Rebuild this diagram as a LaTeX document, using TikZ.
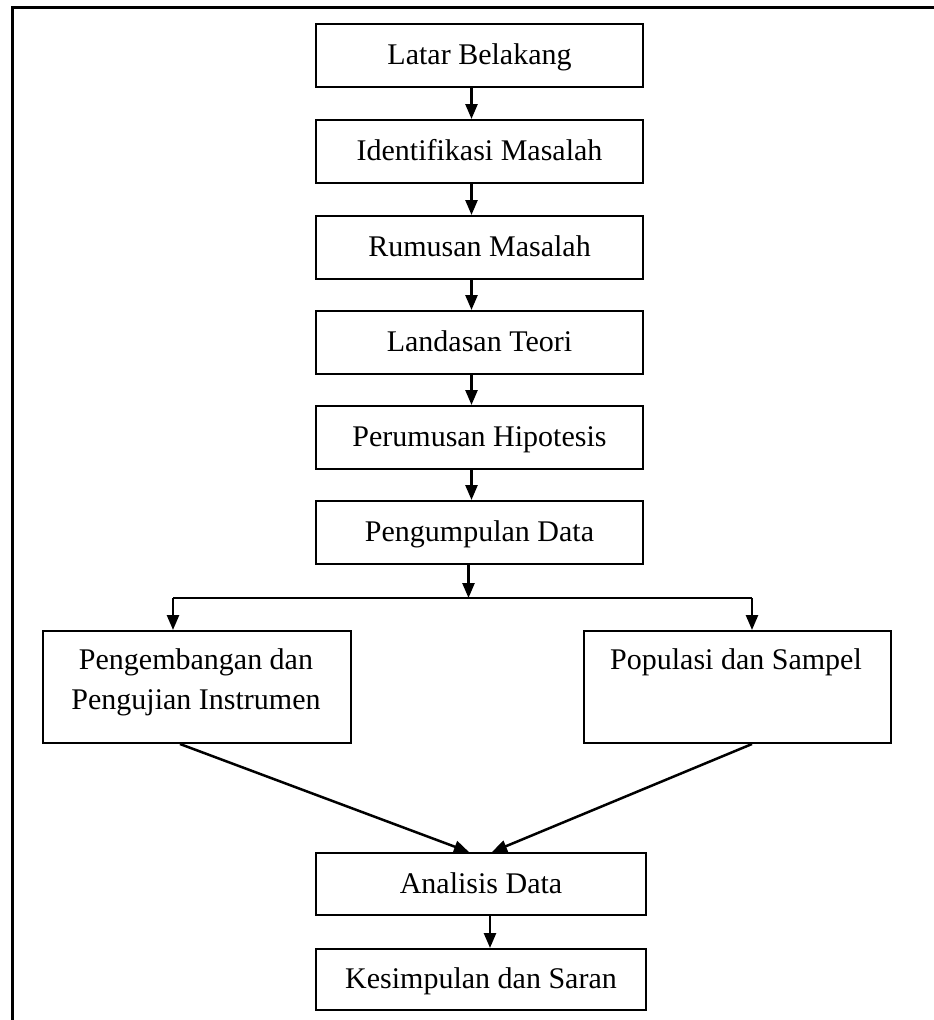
\documentclass[tikz,border=0pt]{standalone}
\usepackage{fontspec}
\setmainfont{Liberation Serif}
\usetikzlibrary{arrows.meta,calc}
\begin{document}
\begin{tikzpicture}[x=1pt,y=-1pt,
  box/.style={draw,line width=2pt,minimum width=327pt,minimum height=63pt,inner sep=0pt,
    font=\fontsize{30}{40}\selectfont,anchor=north west,align=center,text height=24pt,text depth=6pt},
  lbl/.style={font=\fontsize{30}{40}\selectfont,align=center,inner sep=0pt,anchor=north},
  arr/.style={line width=2.5pt,-{Triangle[length=15pt,width=12pt]}},
  ln/.style={line width=2.5pt}]
\useasboundingbox (0,0) rectangle (934,1020);
\draw[line width=3pt] (12,1020) -- (12,7) -- (934,7);
\node[box] (b1) at (315,23) {Latar Belakang};
\node[box] (b2) at (315,119) {Identifikasi Masalah};
\node[box] (b3) at (315,215) {Rumusan Masalah};
\node[box] (b4) at (315,310) {Landasan Teori};
\node[box] (b5) at (315,405) {Perumusan Hipotesis};
\node[box] (b6) at (315,500) {Pengumpulan Data};
\node[box,minimum width=308pt,minimum height=112pt] (l) at (42,630) {};
\node[lbl] (lt) at (196,648) {Pengembangan dan\\Pengujian Instrumen};
\node[box,minimum width=307pt,minimum height=112pt] (r) at (583,630) {};
\node[lbl] (rt) at (736,648) {Populasi dan Sampel};
\node[box,minimum width=330pt,minimum height=62pt] (an) at (315,852) {Analisis Data};
\node[box,minimum width=330pt,minimum height=61pt] (ks) at (315,948) {Kesimpulan dan Saran};
\draw[arr] ([xshift=-8pt]b1.south) -- ([xshift=-8pt]b2.north);
\draw[arr] ([xshift=-8pt]b2.south) -- ([xshift=-8pt]b3.north);
\draw[arr] ([xshift=-8pt]b3.south) -- ([xshift=-8pt]b4.north);
\draw[arr] ([xshift=-8pt]b4.south) -- ([xshift=-8pt]b5.north);
\draw[arr] ([xshift=-8pt]b5.south) -- ([xshift=-8pt]b6.north);
\coordinate (j) at ($(b6.south)+(-11,33)$);
\draw[arr] ([xshift=-11pt]b6.south) -- (j);
\draw[ln] (j) -- (j -| 173,0);
\draw[ln] (j) -- (j -| 752,0);
\draw[arr] (j -| 173,0) -- (l.north -| 173,0);
\draw[arr] (j -| 752,0) -- (r.north -| 752,0);
\draw[arr] (l.south -| 180,0) -- ([xshift=-12pt]an.north);
\draw[arr] (r.south -| 752,0) -- ([xshift=11pt]an.north);
\draw[arr] ([xshift=9pt]an.south) -- ([xshift=9pt]ks.north);
\end{tikzpicture}
\end{document}
